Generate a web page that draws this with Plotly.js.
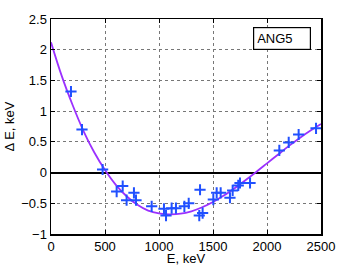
<!DOCTYPE html>
<html><head><meta charset="utf-8">
<script src="https://cdn.plot.ly/plotly-3.0.1.min.js"></script>
<style>html,body{margin:0;padding:0;background:#fff}#c{width:354px;height:266px}</style>
</head><body><div id="c"></div>
<script>
const dataE = [185, 287, 478, 608, 664, 700, 768, 787, 932, 1046, 1065, 1117, 1157, 1235, 1275, 1380, 1373, 1404, 1503, 1534, 1571, 1657, 1682, 1734, 1750, 1843, 2114, 2201, 2293, 2454];
const dataDE = [1.32, 0.70, 0.05, -0.31, -0.22, -0.45, -0.33, -0.45, -0.55, -0.59, -0.70, -0.58, -0.58, -0.55, -0.50, -0.28, -0.70, -0.66, -0.44, -0.33, -0.33, -0.41, -0.29, -0.21, -0.17, -0.17, 0.36, 0.49, 0.62, 0.72];
const fitE = [0, 100, 200, 300, 400, 500, 600, 700, 800, 900, 1000, 1100, 1200, 1300, 1400, 1500, 1600, 1700, 1800, 1900, 2000, 2100, 2200, 2300, 2400, 2500];
const fitDE = [2.12, 1.57, 1.10, 0.68, 0.33, 0.04, -0.20, -0.385, -0.525, -0.62, -0.665, -0.68, -0.67, -0.63, -0.565, -0.48, -0.375, -0.255, -0.125, 0.01, 0.15, 0.29, 0.43, 0.56, 0.68, 0.79];
const xTicks = [0, 500, 1000, 1500, 2000, 2500];
const yTicks = [-1, -0.5, 0, 0.5, 1, 1.5, 2, 2.5];
const yTickText = ['\u22121', '\u22120.5', '0', '0.5', '1', '1.5', '2', '2.5'];
const legendLabel = 'ANG5';

const font = {family: 'Liberation Sans, Arial, sans-serif', size: 13, color: '#000'};
const traces = [
  {x: fitE, y: fitDE, mode: 'lines', line: {color: '#9b30ff', width: 1.8, shape: 'spline'}, hoverinfo: 'skip'},
  {x: dataE, y: dataDE, mode: 'markers', marker: {symbol: 'cross-thin-open', size: 8, color: '#2050ff', line: {color: '#2050ff', width: 2}}}
];
const layout = {
  width: 354, height: 266,
  margin: {l: 51, r: 33, t: 19, b: 32},
  paper_bgcolor: '#fff', plot_bgcolor: '#fff',
  showlegend: false,
  font: font,
  xaxis: {
    range: [0, 2500], tickvals: xTicks, ticktext: xTicks.map(String),
    showline: true, mirror: 'ticks', linecolor: '#000', linewidth: 1.5,
    ticks: 'inside', ticklen: 4, tickcolor: '#000',
    showgrid: true, gridcolor: '#777', griddash: 'dot', gridwidth: 1,
    zeroline: false,
    title: {text: 'E, keV', font: font, standoff: 1}
  },
  yaxis: {
    range: [-1, 2.5], tickvals: yTicks, ticktext: yTickText,
    showline: true, mirror: 'ticks', linecolor: '#000', linewidth: 1.5,
    ticks: 'inside', ticklen: 4, tickcolor: '#000',
    showgrid: true, gridcolor: '#777', griddash: 'dot', gridwidth: 1,
    zeroline: true, zerolinecolor: '#000', zerolinewidth: 2,
    title: {text: '\u0394 E, keV', font: font, standoff: 3}
  },
  annotations: [{
    xref: 'paper', yref: 'paper', x: 0.963, y: 0.965, xanchor: 'right', yanchor: 'top',
    text: legendLabel, showarrow: false, font: {family: font.family, size: 13, color: '#000'},
    bordercolor: '#000', borderwidth: 1.2, borderpad: 3, bgcolor: '#fff', align: 'left',
    width: 50
  }]
};
Plotly.newPlot('c', traces, layout, {staticPlot: true, displayModeBar: false});
</script></body></html>
